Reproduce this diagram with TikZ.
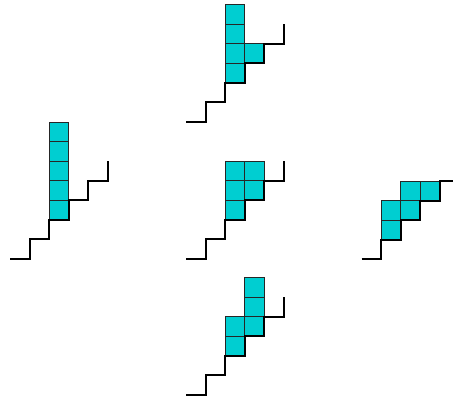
\documentclass[tikz,border=0pt]{standalone}
\definecolor{cellcyan}{RGB}{0,206,209}
\tikzset{
  cell/.style={fill=cellcyan, draw=black!85, line width=1pt},
  stair/.style={draw=black, line width=2pt, line join=miter},
  staircase/.pic={\draw[stair] (0,0) -- (1,0) -- (1,1) -- (2,1) -- (2,2) -- (3,2) -- (3,3) -- (4,3) -- (4,4) -- (5,4) -- (5,5);},
  fig/.style={shift={#1}, x=19.5pt, y=19.5pt}
}
\begin{document}
\begin{tikzpicture}
\useasboundingbox (0pt,0pt) rectangle (453pt,403pt);
\clip (0pt,0pt) rectangle (453pt,403pt);
% top figure
\begin{scope}[fig={(186pt,281.3pt)}]
  \foreach \cx/\cy in {2/2,2/3,2/4,2/5,3/3} \draw[cell] (\cx,\cy) rectangle ++(1,1);
  \pic {staircase};
\end{scope}
% left figure
\begin{scope}[fig={(10pt,144pt)}]
  \foreach \cx/\cy in {2/2,2/3,2/4,2/5,2/6} \draw[cell] (\cx,\cy) rectangle ++(1,1);
  \pic {staircase};
\end{scope}
% middle figure
\begin{scope}[fig={(186pt,144pt)}]
  \foreach \cx/\cy in {2/2,2/3,2/4,3/3,3/4} \draw[cell] (\cx,\cy) rectangle ++(1,1);
  \pic {staircase};
\end{scope}
% right figure
\begin{scope}[fig={(361.7pt,143.7pt)}]
  \foreach \cx/\cy in {1/1,1/2,2/2,2/3,3/3} \draw[cell] (\cx,\cy) rectangle ++(1,1);
  \pic {staircase};
\end{scope}
% bottom figure
\begin{scope}[fig={(186pt,8pt)}]
  \foreach \cx/\cy in {2/2,2/3,3/3,3/4,3/5} \draw[cell] (\cx,\cy) rectangle ++(1,1);
  \pic {staircase};
\end{scope}
\end{tikzpicture}
\end{document}
